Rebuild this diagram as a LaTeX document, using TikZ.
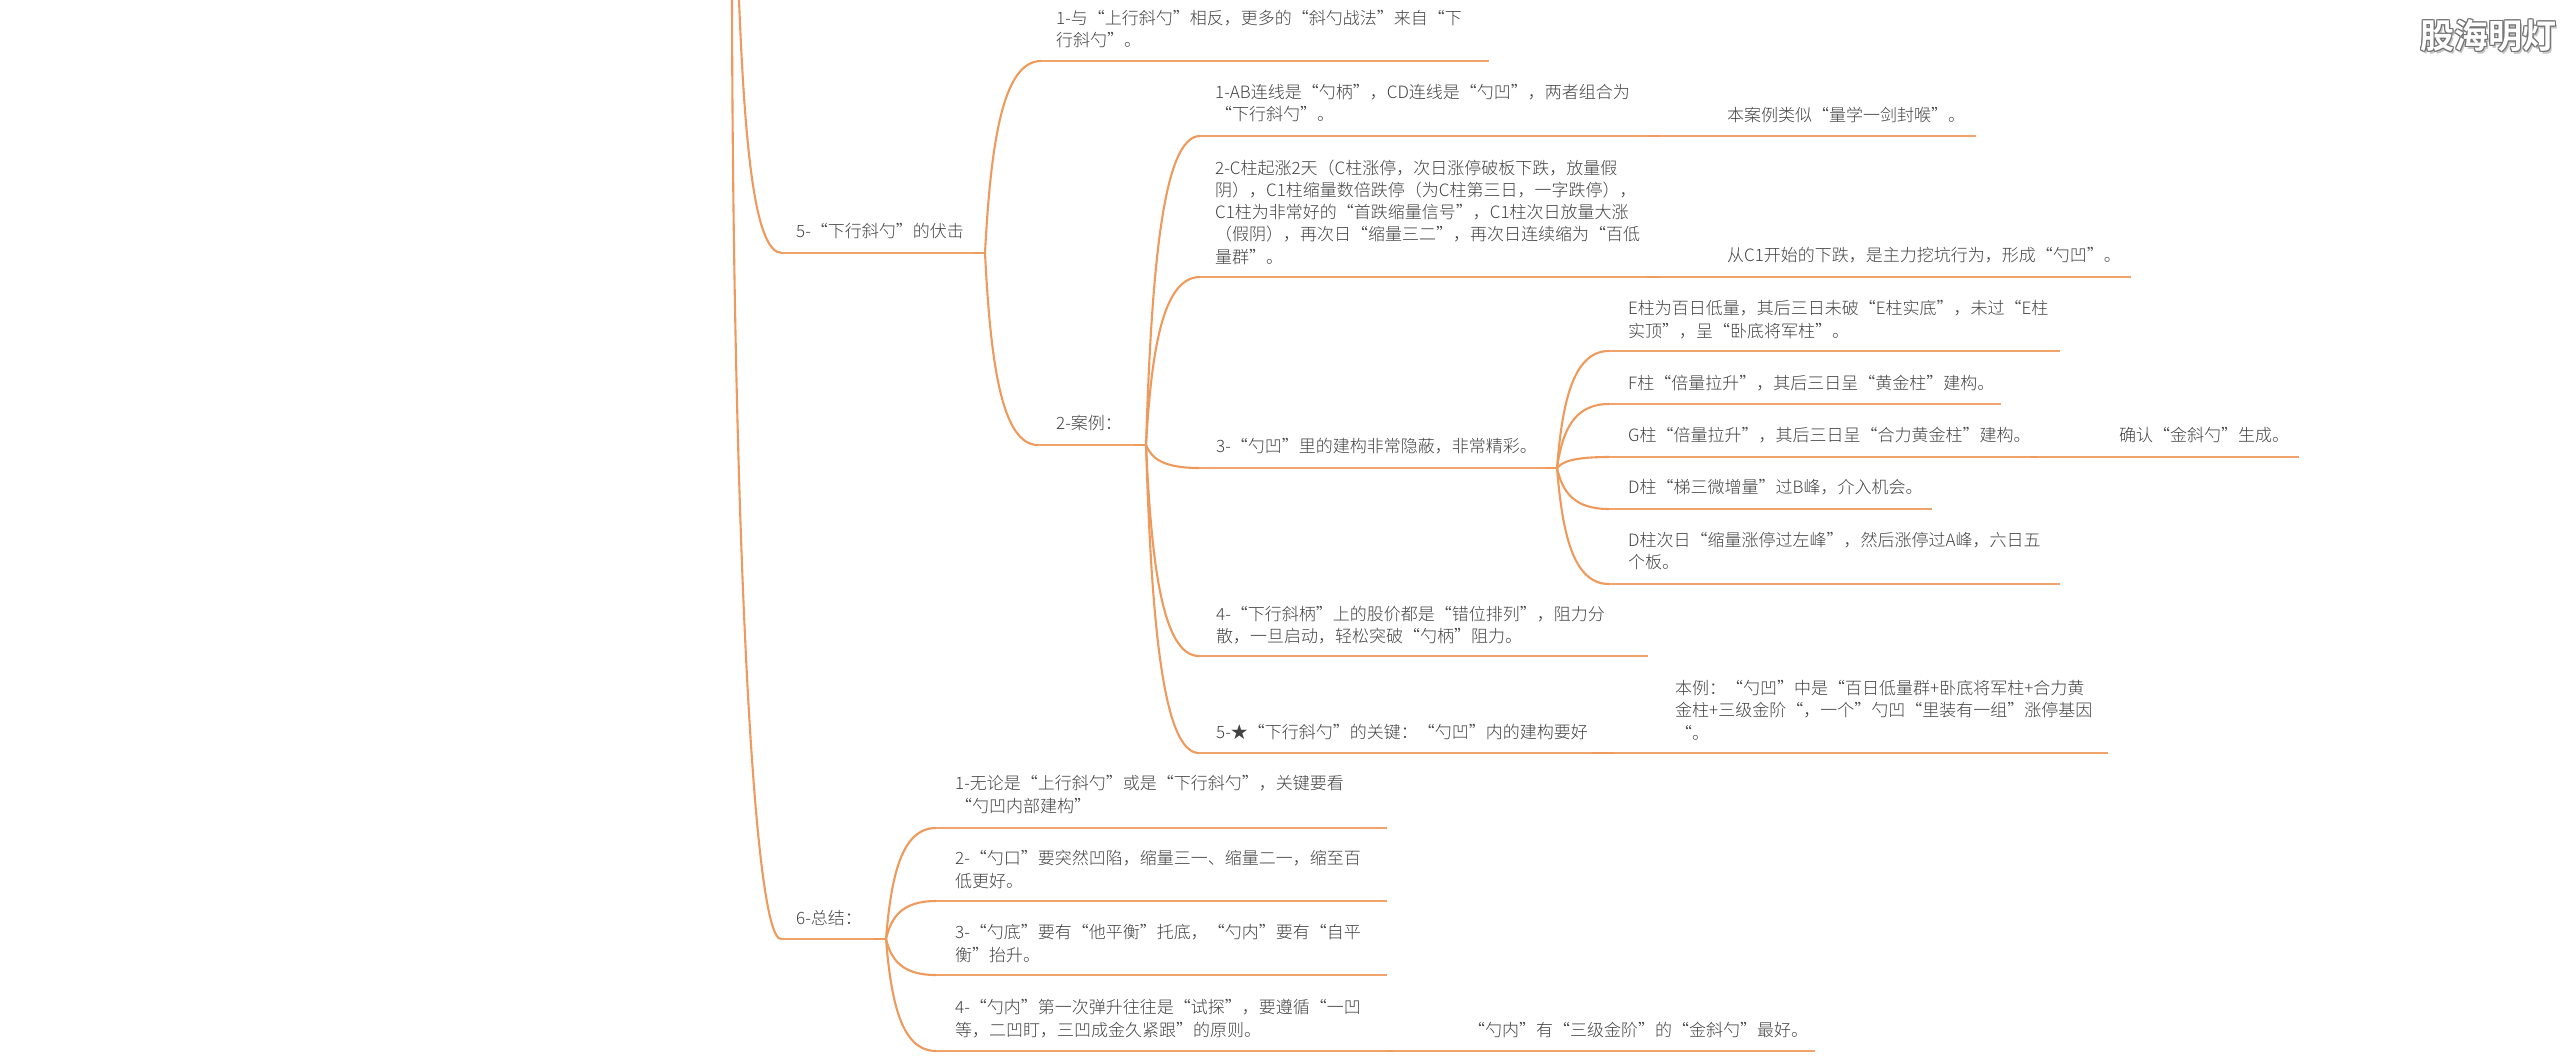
\documentclass[tikz,border=0pt]{standalone}
\usepackage{fontspec}
\setmainfont{Noto Sans CJK SC}[UprightFont=* Light,BoldFont=* Bold]
\usetikzlibrary{calc}
\definecolor{limbcolor}{HTML}{EE9A5C}
\definecolor{inkcolor}{HTML}{424242}
\tikzset{
	limb/.style={draw=limbcolor, line width=2.6pt, draw opacity=0.9},
	twigline/.style={draw=limbcolor, line width=2.1pt},
	txt/.style={anchor=west, inner sep=0pt, align=left, text=inkcolor, font=\fontsize{17}{22.3}\selectfont},
	marktext/.style={anchor=east, inner sep=0pt, font=\fontsize{34}{34}\bfseries},
}
\def\topic(#1)(#2:#3:#4){\coordinate (#1-l) at (#2,#4); \coordinate (#1-r) at (#3,#4); \draw[limb] (#1-l) -- (#1-r);}
\def\twig(#1)(#2){\draw[twigline] let \p1=(#1), \p2=(#2) in (\p1) .. controls ({\x1+0.1*(\x2-\x1)},{\y1+0.55*(\y2-\y1)}) and ({\x1+0.3*(\x2-\x1)},\y2) .. (\p2);}
\begin{document}
\begin{tikzpicture}[x=1pt,y=-1pt]
	\useasboundingbox (0,0) rectangle (2572,1058);
	
	%%%%% trunk %%%%%
	\coordinate (trunkA) at (739,0);
	\coordinate (trunkB) at (732,0);
	\topic(fuji)(782:985:253);
	\topic(zongjie)(781:886:939);
	\draw[twigline] (trunkA) .. controls (745,150) and (755,253) .. (fuji-l);
	\draw[twigline] (trunkB) .. controls (733,500) and (752,939) .. (zongjie-l);
	\draw[limb] (973,253) -- (fuji-r);
	\draw[limb] (874,939) -- (zongjie-r);
	\node[txt] (fujitxt) at (796,231) {5-“下行斜勺”的伏击};
	\node[txt] (zongjietxt) at (796,918) {6-总结：};
	
	%%%%% 5 %%%%%
	\topic(xiang)(1041:1489:61);
	\topic(anli)(1038:1146:445);
	\draw[limb] (1134,445) -- (anli-r);
	\twig(fuji-r)(xiang-l);
	\twig(fuji-r)(anli-l);
	\node[txt] (xiangtxt) at (1056,29) {1-与“上行斜勺”相反，更多的“斜勺战法”来自“下\\行斜勺”。};
	\node[txt] (anlitxt) at (1056,423) {2-案例：};
	
	%%%%% 2 %%%%%
	\topic(caseA)(1200:1660:136);
	\topic(caseAn)(1647:1976:136);
	\topic(caseB)(1200:1660:277);
	\topic(caseBn)(1647:2131:277);
	\topic(caseC)(1199:1557:468);
	\topic(caseD)(1199:1648:656);
	\topic(caseE)(1199:1614:753);
	\topic(caseEn)(1592:2108:753);
	\draw[limb] (1545,468) -- (caseC-r);
	\twig(anli-r)(caseA-l);
	\twig(anli-r)(caseB-l);
	\twig(anli-r)(caseC-l);
	\twig(anli-r)(caseD-l);
	\twig(anli-r)(caseE-l);
	\node[txt] (caseAtxt) at (1215,103) {1-AB连线是“勺柄”，CD连线是“勺凹”，两者组合为\\“下行斜勺”。};
	\node[txt] (caseAntxt) at (1727,115) {本案例类似“量学一剑封喉”。};
	\node[txt] (caseBtxt) at (1215,212) {2-C柱起涨2天（C柱涨停，次日涨停破板下跌，放量假\\阴），C1柱缩量数倍跌停（为C柱第三日，一字跌停），\\C1柱为非常好的“首跌缩量信号”，C1柱次日放量大涨\\（假阴），再次日“缩量三二”，再次日连续缩为“百低\\量群”。};
	\node[txt] (caseBntxt) at (1727,255) {从C1开始的下跌，是主力挖坑行为，形成“勺凹”。};
	\node[txt] (caseCtxt) at (1216,446) {3-“勺凹”里的建构非常隐蔽，非常精彩。};
	\node[txt] (caseDtxt) at (1216,625) {4-“下行斜柄”上的股价都是“错位排列”，阻力分\\散，一旦启动，轻松突破“勺柄”阻力。};
	\node[txt] (caseEtxt) at (1216,732) {5-★“下行斜勺”的关键：“勺凹”内的建构要好};
	\node[txt] (caseEntxt) at (1675,710) {本例：“勺凹”中是“百日低量群+卧底将军柱+合力黄\\金柱+三级金阶“，一个”勺凹“里装有一组”涨停基因\\“。};
	
	%%%%% 3 %%%%%
	\topic(zhuE)(1609:2060:351);
	\topic(zhuF)(1609:2001:404);
	\topic(zhuG)(1609:2037:457);
	\topic(zhuGn)(2030:2299:457);
	\topic(zhuD)(1609:1932:509);
	\topic(zhuH)(1609:2060:584);
	\twig(caseC-r)(zhuE-l);
	\twig(caseC-r)(zhuF-l);
	\twig(caseC-r)(zhuG-l);
	\twig(caseC-r)(zhuD-l);
	\twig(caseC-r)(zhuH-l);
	\node[txt] (zhuEtxt) at (1628,319.5) {E柱为百日低量，其后三日未破“E柱实底”，未过“E柱\\实顶”，呈“卧底将军柱”。};
	\node[txt] (zhuFtxt) at (1628,383) {F柱“倍量拉升”，其后三日呈“黄金柱”建构。};
	\node[txt] (zhuGtxt) at (1628,435) {G柱“倍量拉升”，其后三日呈“合力黄金柱”建构。};
	\node[txt] (zhuGntxt) at (2119,435) {确认“金斜勺”生成。};
	\node[txt] (zhuDtxt) at (1628,487) {D柱“梯三微增量”过B峰，介入机会。};
	\node[txt] (zhuHtxt) at (1628,551) {D柱次日“缩量涨停过左峰”，然后涨停过A峰，六日五\\个板。};
	
	%%%%% 6 %%%%%
	\topic(sumA)(936:1387:828);
	\topic(sumB)(936:1387:901);
	\topic(sumC)(936:1387:975);
	\topic(sumD)(936:1393:1051);
	\topic(sumDn)(1387:1815:1051);
	\twig(zongjie-r)(sumA-l);
	\twig(zongjie-r)(sumB-l);
	\twig(zongjie-r)(sumC-l);
	\twig(zongjie-r)(sumD-l);
	\node[txt] (sumAtxt) at (955,794.5) {1-无论是“上行斜勺”或是“下行斜勺”，关键要看\\“勺凹内部建构”};
	\node[txt] (sumBtxt) at (955,869.5) {2-“勺口”要突然凹陷，缩量三一、缩量二一，缩至百\\低更好。};
	\node[txt] (sumCtxt) at (955,943.5) {3-“勺底”要有“他平衡”托底，“勺内”要有“自平\\衡”抬升。};
	\node[txt] (sumDtxt) at (955,1018.5) {4-“勺内”第一次弹升往往是“试探”，要遵循“一凹\\等，二凹盯，三凹成金久紧跟”的原则。};
	\node[txt] (sumDntxt) at (1468,1030) {“勺内”有“三级金阶”的“金斜勺”最好。};
	
	%%%%% mark %%%%%
	\node[marktext, text=black!22] (markshade) at (2559,39) {股海明灯};
	\foreach \i/\dx/\dy in {0/1/0,1/-1/0,2/0/1,3/0/-1,4/1/1,5/-1/-1,6/1/-1,7/-1/1}{
		\node[marktext, text=black!55] (markline\i) at (2557+\dx,36+\dy) {股海明灯};
	}
	\node[marktext, text=white] (marktxt) at (2557,36) {股海明灯};
\end{tikzpicture}
\end{document}
